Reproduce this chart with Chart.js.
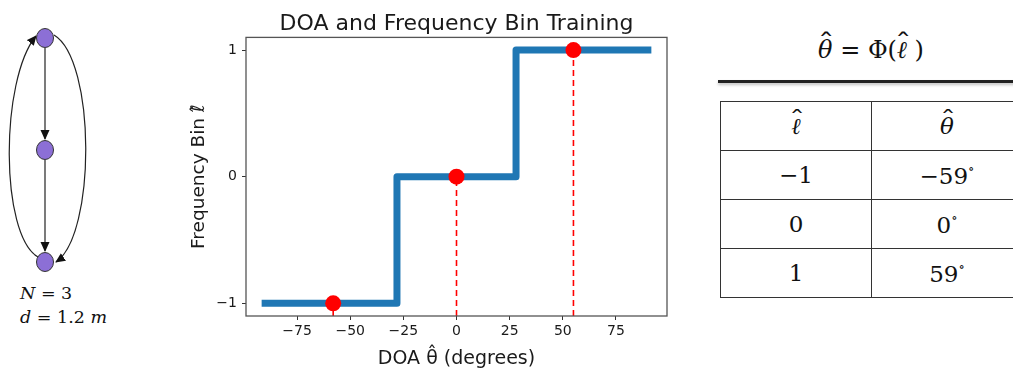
<!DOCTYPE html>
<html>
<head>
<meta charset="utf-8">
<script src="https://cdn.jsdelivr.net/npm/chart.js@4.4.1/dist/chart.umd.min.js"></script>
<style>
  body { margin: 0; width: 1013px; height: 373px; overflow: hidden; background: #fff; position: relative; }
  #diagram { position: absolute; left: 0; top: 0; }
  #params { position: absolute; left: 20px; top: 281px; font: 17.5px 'DejaVu Serif', serif; line-height: 24px; color: #111; }
  #chartBox { position: absolute; left: 170px; top: 0; width: 510px; height: 373px; }
  #mapTitle { position: absolute; left: 771px; top: 36px; width: 200px; text-align: center; font: 24px 'DejaVu Serif', serif; color: #111; }
  #mapRule { position: absolute; left: 718px; top: 80px; width: 300px; height: 3px; background: #222; box-shadow: 0 2px 3px rgba(0,0,0,0.25); }
  #mapTable { position: absolute; left: 720px; top: 101px; width: 302px; border-collapse: collapse; table-layout: fixed; font: 23px 'DejaVu Serif', serif; color: #111; }
  #mapTable td { width: 150px; height: 48px; border: 1.5px solid #333; text-align: center; padding: 0; }
  sup { font-size: 13px; vertical-align: 11px; }
  i { font-style: italic; }
  .hat { position: relative; display: inline-block; font-style: italic; }
  .hat::after { content: '\02C6'; position: absolute; left: 50%; top: -0.3em; transform: translateX(-40%) scaleX(1.4); font-style: normal; }
</style>
</head>
<body>
<svg id="diagram" width="120" height="373">
  <defs>
    <marker id="arr" markerWidth="10" markerHeight="10" refX="9" refY="4.5" orient="auto" markerUnits="userSpaceOnUse">
      <path d="M0,0 L10,4.5 L0,9 z" fill="#111"/>
    </marker>
  </defs>
  <line x1="45" y1="48" x2="45" y2="139" stroke="#222" stroke-width="1.2" marker-end="url(#arr)"/>
  <line x1="45" y1="160" x2="45" y2="251" stroke="#222" stroke-width="1.2" marker-end="url(#arr)"/>
  <path d="M38 257 C 0 235, 0 80, 36 36" fill="none" stroke="#222" stroke-width="1.2" marker-end="url(#arr)"/>
  <path d="M54 35 C 96 60, 96 235, 56 262" fill="none" stroke="#222" stroke-width="1.2" marker-end="url(#arr)"/>
  <ellipse cx="45" cy="38" rx="8.5" ry="9.5" fill="#8c6fd6" stroke="#333" stroke-width="1"/>
  <ellipse cx="45" cy="150" rx="8.5" ry="9.5" fill="#8c6fd6" stroke="#333" stroke-width="1"/>
  <ellipse cx="45" cy="262" rx="8.5" ry="9.5" fill="#8c6fd6" stroke="#333" stroke-width="1"/>
</svg>
<div id="params"><i>N</i> = 3<br><i>d</i> = 1.2 <i>m</i></div>

<div id="chartBox"><canvas id="doa"></canvas></div>

<div id="mapTitle"><span class="hat">θ</span> = Φ(<span class="hat">ℓ</span> )</div>
<div id="mapRule"></div>
<table id="mapTable"></table>

<script>
const stepX = [ -90, -28, -28, 28, 28, 90 ]
const stepY = [ -1, -1, 0, 0, 1, 1 ]
const doaX = [ -58, 0, 55 ]
const binY = [ -1, 0, 1 ]
const xTicks = [ -75, -50, -25, 0, 25, 50, 75 ]
const yTicks = [ -1, 0, 1 ]
const tableBins = [ -1, 0, 1 ]
const tableDoa = [ -59, 0, 59 ]

const yBottom = -1.1

const fmt = v => (v < 0 ? '\u2212' + Math.abs(v) : '' + v)

// lookup table on the right
const table = document.getElementById('mapTable')
let html = '<tr><td><span class="hat">ℓ</span></td><td><span class="hat">θ</span></td></tr>'
tableBins.forEach((b, i) => {
  html += '<tr><td>' + fmt(b) + '</td><td>' + fmt(tableDoa[i]) + '<sup>∘</sup></td></tr>'
})
table.innerHTML = html

const frame = {
  id: 'frame',
  afterDraw(chart) {
    const { ctx, chartArea: a } = chart
    ctx.save()
    ctx.strokeStyle = '#555'
    ctx.lineWidth = 1.3
    ctx.strokeRect(a.left, a.top, a.right - a.left, a.bottom - a.top)
    ctx.restore()
  }
}

const stems = doaX.map((x, i) => ({
  data: [ { x: x, y: yBottom }, { x: x, y: binY[i] } ],
  showLine: true,
  borderColor: '#ff0000',
  borderWidth: 1.6,
  borderDash: [ 6, 4 ],
  pointRadius: 0
}))

let doaChart = new Chart(document.querySelector('#doa'), {
  type: 'scatter',
  plugins: [frame],
  data: {
    datasets: [
      {
        data: doaX.map((x, i) => ({ x: x, y: binY[i] })),
        pointRadius: 8,
        pointBackgroundColor: '#ff0000',
        pointBorderWidth: 0,
        showLine: false
      },
      ...stems,
      {
        data: stepX.map((x, i) => ({ x: x, y: stepY[i] })),
        showLine: true,
        borderColor: '#1f77b4',
        borderWidth: 7,
        borderJoinStyle: 'round',
        borderCapStyle: 'square',
        pointRadius: 0
      }
    ]
  },
  options: {
    responsive: true,
    maintainAspectRatio: false,
    animation: false,
    layout: { padding: { top: 0, right: 13, bottom: 0, left: 0 } },
    scales: {
      x: {
        min: -99,
        max: 99,
        afterBuildTicks(scale) { scale.ticks = xTicks.map(v => ({ value: v })) },
        afterFit(scale) { scale.height = 57 },
        grid: { drawOnChartArea: false, drawTicks: true, tickLength: 4, color: '#333' },
        border: { display: false },
        ticks: {
          padding: 3,
          color: '#1a1a1a',
          font: { family: 'DejaVu Sans', size: 14 },
          callback: v => fmt(v)
        },
        title: {
          display: true,
          text: 'DOA θ̂ (degrees)',
          color: '#1a1a1a',
          font: { family: 'DejaVu Sans', size: 19 },
          padding: { top: 0, bottom: 3 }
        }
      },
      y: {
        min: yBottom,
        max: 1.1,
        afterBuildTicks(scale) { scale.ticks = yTicks.map(v => ({ value: v })) },
        afterFit(scale) { scale.width = 76 },
        grid: { drawOnChartArea: false, drawTicks: true, tickLength: 4, color: '#333' },
        border: { display: false },
        ticks: {
          padding: 5,
          color: '#1a1a1a',
          font: { family: 'DejaVu Sans', size: 14 },
          callback: v => fmt(v)
        },
        title: {
          display: true,
          text: 'Frequency Bin ℓ̂',
          color: '#1a1a1a',
          font: { family: 'DejaVu Sans', size: 18.5 },
          padding: { top: 18, bottom: 0 }
        }
      }
    },
    plugins: {
      legend: { display: false },
      tooltip: { enabled: false },
      title: {
        display: true,
        fullSize: false,
        text: 'DOA and Frequency Bin Training',
        color: '#1a1a1a',
        font: { family: 'DejaVu Sans', size: 22, weight: 'normal' },
        padding: { top: 11, bottom: 0 }
      }
    }
  }
})
</script>
</body>
</html>
